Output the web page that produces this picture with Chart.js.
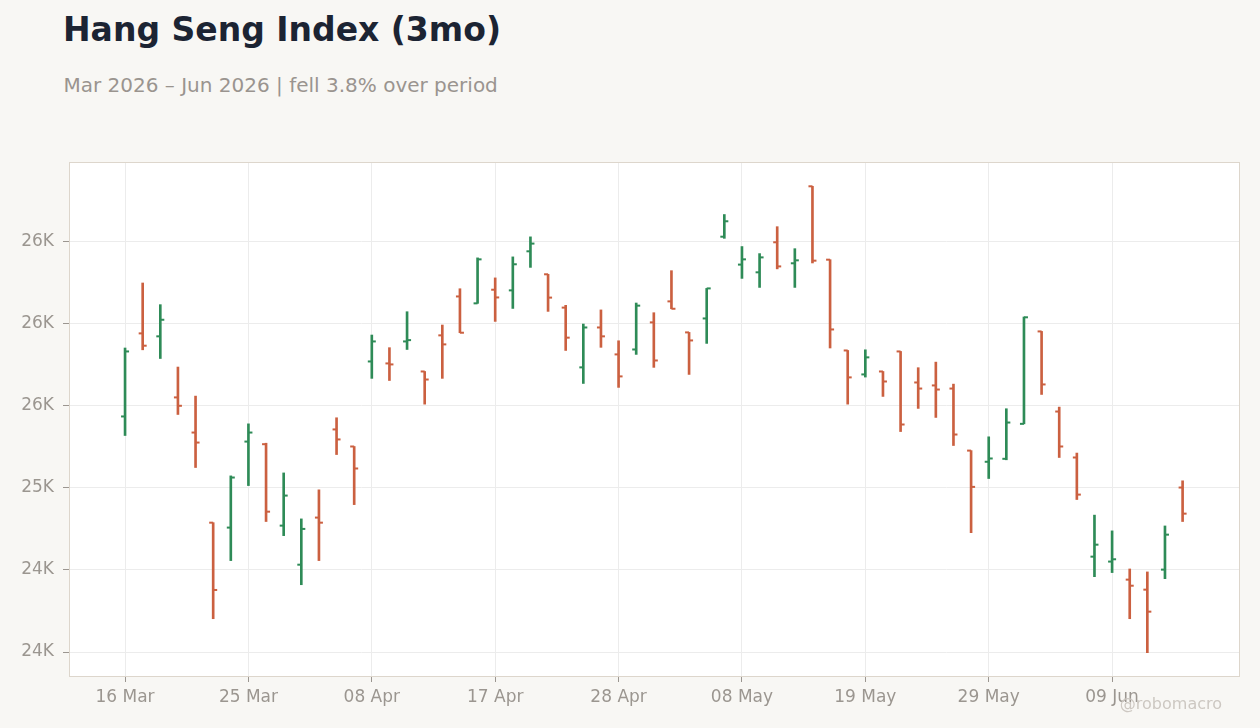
<!DOCTYPE html>
<html lang="en">
<head>
<meta charset="utf-8">
<title>Hang Seng Index (3mo)</title>
<script src="https://cdn.jsdelivr.net/npm/chart.js@4.4.1/dist/chart.umd.min.js"></script>
<style>
  html, body { margin: 0; padding: 0; background: #f8f7f4; }
  #wrap { position: relative; width: 1260px; height: 728px; overflow: hidden; font-family: "DejaVu Sans", sans-serif; }
  #title { position: absolute; left: 63px; top: 12.8px; font-size: 33px; line-height: 33px; font-weight: bold; color: #1c2433; white-space: nowrap; }
  #subtitle { position: absolute; left: 63.5px; top: 75.4px; font-size: 20px; line-height: 20px; color: #9a948f; white-space: nowrap; }
  #credit { position: absolute; right: 38px; top: 696px; font-size: 16px; line-height: 16px; color: #cdc8c2; white-space: nowrap; }
  canvas { position: absolute; left: 0; top: 0; }
</style>
</head>
<body>
<div id="wrap">
  <div id="title">Hang Seng Index (3mo)</div>
  <div id="subtitle">Mar 2026 – Jun 2026 | fell 3.8% over period</div>
  <canvas id="grafico" width="1260" height="728"></canvas>
  <div id="credit">@robomacro</div>
</div>
<script>
// Trading days (HK), one per bar
const dates = [
  '16 Mar', '17 Mar', '18 Mar', '19 Mar', '20 Mar', '23 Mar', '24 Mar', '25 Mar', '26 Mar', '27 Mar', '30 Mar', '31 Mar',
  '01 Apr', '02 Apr', '08 Apr', '09 Apr', '10 Apr', '13 Apr', '14 Apr', '15 Apr', '16 Apr', '17 Apr',
  '20 Apr', '21 Apr', '22 Apr', '23 Apr', '24 Apr', '27 Apr', '28 Apr', '29 Apr', '30 Apr',
  '04 May', '05 May', '06 May', '07 May', '08 May', '11 May', '12 May', '13 May', '14 May', '15 May',
  '18 May', '19 May', '20 May', '21 May', '22 May', '26 May', '27 May', '28 May', '29 May',
  '01 Jun', '02 Jun', '03 Jun', '04 Jun', '05 Jun', '08 Jun', '09 Jun', '10 Jun', '11 Jun', '12 Jun', '15 Jun'
];

const opens = [
  25435, 25941, 25923, 25551, 25337, 24788, 24758, 25282, 25266, 24770,
  24532, 24819, 25356, 25252, 25770, 25758, 25892, 25709, 25929, 26166,
  26124, 26207, 26203, 26441, 26301, 26098, 25734, 25977, 25813, 25843,
  26008, 26136, 25947, 26032, 26530, 26360, 26313, 26496, 26368, 26837,
  26390, 25837, 25691, 25709, 25831, 25642, 25624, 25605, 25227, 25159,
  25177, 25390, 25953, 25465, 25185, 24581, 24551, 24441, 24380, 24502, 25002
];
const highs = [
  25852, 26248, 26116, 25736, 25559, 24788, 25073, 25390, 25272, 25091,
  24811, 24988, 25427, 25252, 25931, 25854, 26073, 25709, 25992, 26213,
  26401, 26279, 26407, 26529, 26301, 26112, 25998, 26084, 25896, 26126,
  26067, 26323, 25947, 26215, 26665, 26470, 26427, 26591, 26457, 26837,
  26390, 25837, 25841, 25709, 25831, 25732, 25766, 25632, 25227, 25311,
  25482, 26041, 25953, 25492, 25212, 24834, 24738, 24506, 24488, 24768, 25043
];
const lows = [
  25319, 25841, 25788, 25447, 25124, 24203, 24557, 25014, 24795, 24709,
  24410, 24557, 25203, 24898, 25667, 25654, 25843, 25510, 25667, 25945,
  26124, 26014, 26093, 26343, 26075, 25837, 25636, 25856, 25612, 25813,
  25734, 26091, 25691, 25880, 26520, 26276, 26221, 26334, 26221, 26370,
  25852, 25510, 25675, 25557, 25343, 25484, 25429, 25258, 24727, 25057,
  25171, 25390, 25569, 25185, 24929, 24459, 24484, 24203, 23996, 24447, 24795
];
const closes = [
  25831, 25866, 26024, 25500, 25276, 24378, 25063, 25337, 24855, 24953,
  24750, 24788, 25295, 25118, 25892, 25752, 25900, 25660, 25874, 25945,
  26392, 26160, 26362, 26488, 26159, 25915, 25977, 25923, 25679, 26110,
  25776, 26091, 25898, 26215, 26624, 26392, 26404, 26349, 26386, 26384,
  25965, 25673, 25795, 25648, 25386, 25605, 25599, 25325, 25006, 25179,
  25398, 26039, 25630, 25252, 24959, 24654, 24565, 24404, 24246, 24715, 24843
];

// Ticks
const xTicks = [0, 7, 14, 21, 28, 35, 42, 49, 56];
const yTicks = [24000, 24500, 25000, 25500, 26000, 26500];
const yTickLabels = ['24K', '24K', '25K', '26K', '26K', '26K'];

const VERDE = '#2e8b57';
const ROJO = '#cb6040';
const GRIS = '#9b9690';
const colores = closes.map((c, i) => c >= opens[i] ? VERDE : ROJO);

// Fondo blanco del area y borde
const fondoArea = {
  id: 'fondoArea',
  beforeDraw(chart) {
    const { ctx, chartArea: a } = chart;
    ctx.save();
    ctx.fillStyle = '#ffffff';
    ctx.fillRect(a.left, a.top, a.right - a.left, a.bottom - a.top);
    ctx.restore();
  },
  afterDraw(chart) {
    const { ctx, chartArea: a } = chart;
    ctx.save();
    ctx.strokeStyle = '#ddd6cc';
    ctx.lineWidth = 1;
    ctx.strokeRect(a.left + 0.5, a.top + 0.5, a.right - a.left, a.bottom - a.top);
    ctx.restore();
  }
};

// Marcas de apertura (izquierda) y cierre (derecha)
const marcasOHLC = {
  id: 'marcasOHLC',
  afterDatasetsDraw(chart) {
    const { ctx, scales: { x, y } } = chart;
    ctx.save();
    for (let i = 0; i < opens.length; i++) {
      const px = x.getPixelForValue(i);
      ctx.fillStyle = colores[i];
      ctx.fillRect(px - 4, y.getPixelForValue(opens[i]) - 1, 4, 2);
      ctx.fillRect(px, y.getPixelForValue(closes[i]) - 1, 4, 2);
    }
    ctx.restore();
  }
};

const fuente = { family: '"DejaVu Sans", sans-serif', size: 17 };

new Chart(document.getElementById('grafico').getContext('2d'), {
  type: 'bar',
  data: {
    datasets: [{
      label: 'Hang Seng',
      data: highs.map((h, i) => ({ x: i, y: [lows[i], h] })),
      backgroundColor: colores,
      borderWidth: 0,
      borderSkipped: false,
      barThickness: 2,
      grouped: false
    }]
  },
  options: {
    responsive: false,
    animation: false,
    devicePixelRatio: 1,
    layout: { padding: { top: 162, right: 21, bottom: 0, left: 0 } },
    plugins: {
      legend: { display: false },
      tooltip: { enabled: false }
    },
    scales: {
      x: {
        type: 'linear',
        offset: false,
        min: -3.18,
        max: 63.2,
        afterBuildTicks: s => { s.ticks = xTicks.map(v => ({ value: v })); },
        afterFit: s => { s.height = 52; },
        ticks: {
          callback: v => dates[v],
          color: GRIS,
          font: fuente,
          padding: 5,
          maxRotation: 0,
          autoSkip: false
        },
        grid: { offset: false, color: '#ececec', tickColor: GRIS, tickLength: 6 },
        border: { display: false }
      },
      y: {
        min: 23854,
        max: 26985,
        afterBuildTicks: s => { s.ticks = yTicks.map(v => ({ value: v })); },
        afterFit: s => { s.width = 69; },
        ticks: {
          callback: (v, i) => yTickLabels[i],
          color: GRIS,
          font: fuente,
          padding: 9
        },
        grid: { color: '#ececec', tickColor: GRIS, tickLength: 6 },
        border: { display: false }
      }
    }
  },
  plugins: [fondoArea, marcasOHLC]
});
</script>
</body>
</html>
